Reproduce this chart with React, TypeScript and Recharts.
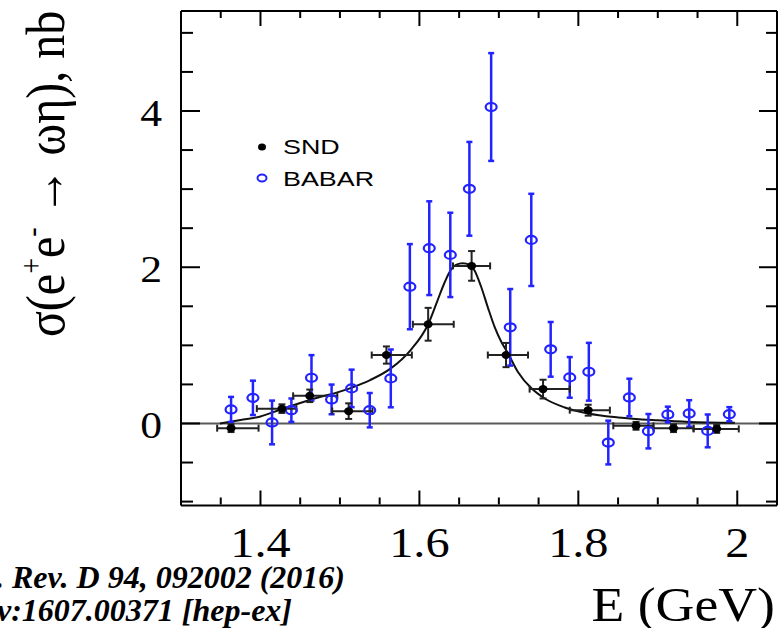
import React from 'react';
import { ComposedChart, XAxis, YAxis, Scatter, Line, ErrorBar, ReferenceLine } from 'recharts';

// SND points: energy (GeV), energy bin edges, cross section (nb), stat. error
const sndE = [1.363, 1.427, 1.462, 1.511, 1.5585, 1.611, 1.6657, 1.709, 1.7556, 1.8124, 1.8726, 1.9198, 1.9741];
const sndBinLo = [1.3455, 1.3954, 1.4411, 1.4903, 1.54, 1.5918, 1.6423, 1.6861, 1.7387, 1.7892, 1.844, 1.8945, 1.945];
const sndBinHi = [1.3976, 1.4452, 1.4967, 1.5409, 1.5905, 1.6432, 1.689, 1.7367, 1.7892, 1.8397, 1.8945, 1.945, 2.0019];
const sndSigma = [-0.06, 0.19, 0.354, 0.158, 0.876, 1.27, 2.017, 0.876, 0.44, 0.17, -0.03, -0.06, -0.07];
const sndErr = [0.05, 0.055, 0.08, 0.1, 0.11, 0.21, 0.19, 0.155, 0.12, 0.07, 0.05, 0.05, 0.05];

// BABAR points
const babarE = [1.363, 1.3905, 1.4146, 1.4389, 1.4642, 1.4895, 1.5147, 1.5375, 1.564, 1.588, 1.6124, 1.6389, 1.6629,
  1.6903, 1.7143, 1.7408, 1.7652, 1.7892, 1.8132, 1.8377, 1.8642, 1.8882, 1.9126, 1.9395, 1.9628, 1.99];
const babarSigma = [0.18, 0.328, 0.013, 0.17, 0.585, 0.308, 0.449, 0.17, 0.577, 1.751, 2.244, 2.158, 3.004,
  4.051, 1.231, 2.35, 0.949, 0.59, 0.662, -0.244, 0.333, -0.099, 0.115, 0.128, -0.095, 0.119];
const babarErr = [0.16, 0.22, 0.28, 0.15, 0.29, 0.19, 0.24, 0.22, 0.37, 0.545, 0.6, 0.54, 0.6,
  0.69, 0.49, 0.59, 0.35, 0.26, 0.37, 0.28, 0.24, 0.22, 0.1, 0.17, 0.21, 0.09];

// fit curve
const fitE = [1.349, 1.375, 1.4, 1.427, 1.462, 1.5125, 1.538, 1.564, 1.589, 1.611, 1.623, 1.6313, 1.6398, 1.646,
  1.6545, 1.663, 1.669, 1.6777, 1.686, 1.6945, 1.703, 1.7114, 1.724, 1.741, 1.7577, 1.783, 1.8125, 1.8503, 1.9, 1.939, 1.997];
const fitSigma = [0.0, 0.045, 0.09, 0.185, 0.3, 0.45, 0.555, 0.705, 0.94, 1.27, 1.58, 1.795, 1.97, 2.03,
  2.05, 2.03, 1.965, 1.75, 1.49, 1.24, 1.046, 0.9, 0.66, 0.45, 0.32, 0.205, 0.128, 0.077, 0.04, 0.02, 0.01];

const xMajor = [1.4, 1.6, 1.8, 2];
const xMinor = [1.35, 1.45, 1.5, 1.55, 1.65, 1.7, 1.75, 1.85, 1.9, 1.95];
const yMajor = [0, 2, 4];
const yMinor = [-1, -0.5, 0.5, 1, 1.5, 2.5, 3, 3.5, 4.5, 5];

const snd = sndE.map((x, i) => ({
  x,
  y: sndSigma[i],
  ey: sndErr[i],
  ex: [x - sndBinLo[i], sndBinHi[i] - x],
}));
const babar = babarE.map((x, i) => ({ x, y: babarSigma[i], ey: babarErr[i] }));
const fit = fitE.map((x, i) => ({ x, y: fitSigma[i] }));

const BLUE = '#2323ff';
const SERIF = '"Liberation Serif", "Times New Roman", serif';
const SANS = '"Liberation Sans", Arial, sans-serif';
const SX = 1.15; // horizontal stretch of the lettering

const XLabel = (props: any) => {
  const { x, y, payload } = props;
  return (
    <g transform={`translate(${x},${y + 43}) scale(${SX},1)`}>
      <text textAnchor="middle" fontFamily={SERIF} fontSize={42} fill="#000">
        {payload.value}
      </text>
    </g>
  );
};

const YLabel = (props: any) => {
  const { x, y, payload } = props;
  return (
    <g transform={`translate(${x - 11},${y + 15}) scale(${SX},1)`}>
      <text textAnchor="end" fontFamily={SERIF} fontSize={38} fill="#000">
        {payload.value}
      </text>
    </g>
  );
};

// tick marks only, no label
const NoLabel = () => <g />;

const SndDot = (p: any) => <ellipse cx={p.cx} cy={p.cy} rx={4.5} ry={4} fill="#000" />;
const BabarDot = (p: any) => (
  <ellipse cx={p.cx} cy={p.cy} rx={5.5} ry={4} fill="none" stroke={BLUE} strokeWidth={2.2} />
);

const tickStroke = { stroke: '#000', strokeWidth: 2 };
const frame = { stroke: '#000', strokeWidth: 2 };

export default function App() {
  const domX: [number, number] = [1.3, 2.05];
  const domY: [number, number] = [-1.05, 5.28];
  return (
    <div style={{ position: 'absolute', left: 0, top: 0, width: 780, height: 628, background: '#fff' }}>
      <ComposedChart width={780} height={628} margin={{ top: 11, right: 3, bottom: 72.5, left: 121 }}>
        {/* labelled axes */}
        <XAxis xAxisId="xb" type="number" dataKey="x" domain={domX} allowDataOverflow ticks={xMajor}
          tickLine={false} axisLine={frame} tick={<XLabel />} height={50} interval={0} />
        <YAxis yAxisId="yl" type="number" domain={domY} allowDataOverflow ticks={yMajor}
          tickLine={false} axisLine={frame} tick={<YLabel />} width={60} interval={0} />

        {/* inward ticks on all four sides */}
        <XAxis xAxisId="xbMaj" type="number" dataKey="x" domain={domX} allowDataOverflow ticks={xMajor} mirror height={1}
          tick={NoLabel} axisLine={false} tickSize={15} tickLine={tickStroke} interval={0} />
        <XAxis xAxisId="xbMin" type="number" dataKey="x" domain={domX} allowDataOverflow ticks={xMinor} mirror height={1}
          tick={NoLabel} axisLine={false} tickSize={7} tickLine={tickStroke} interval={0} />
        <XAxis xAxisId="xtMaj" orientation="top" type="number" dataKey="x" domain={domX} allowDataOverflow ticks={xMajor} mirror height={1}
          tick={NoLabel} axisLine={frame} tickSize={15} tickLine={tickStroke} interval={0} />
        <XAxis xAxisId="xtMin" orientation="top" type="number" dataKey="x" domain={domX} allowDataOverflow ticks={xMinor} mirror height={1}
          tick={NoLabel} axisLine={false} tickSize={6} tickLine={tickStroke} interval={0} />
        <YAxis yAxisId="ylMaj" type="number" domain={domY} allowDataOverflow ticks={yMajor} mirror width={1}
          tick={NoLabel} axisLine={false} tickSize={19} tickLine={tickStroke} interval={0} />
        <YAxis yAxisId="ylMin" type="number" domain={domY} allowDataOverflow ticks={yMinor} mirror width={1}
          tick={NoLabel} axisLine={false} tickSize={11} tickLine={tickStroke} interval={0} />
        <YAxis yAxisId="yrMaj" orientation="right" type="number" domain={domY} allowDataOverflow ticks={yMajor} mirror width={1}
          tick={NoLabel} axisLine={frame} tickSize={18} tickLine={tickStroke} interval={0} />
        <YAxis yAxisId="yrMin" orientation="right" type="number" domain={domY} allowDataOverflow ticks={yMinor} mirror width={1}
          tick={NoLabel} axisLine={false} tickSize={10} tickLine={tickStroke} interval={0} />

        <ReferenceLine xAxisId="xb" yAxisId="yl" y={0} stroke="#5a5a5a" strokeWidth={2} />

        <Line xAxisId="xb" yAxisId="yl" data={fit} dataKey="y" type="monotone" dot={false}
          stroke="#111" strokeWidth={2} isAnimationActive={false} />

        <Scatter xAxisId="xb" yAxisId="yl" data={babar} dataKey="y" shape={<BabarDot />} isAnimationActive={false}>
          <ErrorBar dataKey="ey" direction="y" width={3} stroke={BLUE} strokeWidth={2.5} isAnimationActive={false} />
        </Scatter>

        <Scatter xAxisId="xb" yAxisId="yl" data={snd} dataKey="y" shape={<SndDot />} isAnimationActive={false}>
          <ErrorBar dataKey="ey" direction="y" width={3.5} stroke="#222" strokeWidth={2} isAnimationActive={false} />
          <ErrorBar dataKey="ex" direction="x" width={3.5} stroke="#222" strokeWidth={2} isAnimationActive={false} />
        </Scatter>
      </ComposedChart>

      <svg width={780} height={628} style={{ position: 'absolute', left: 0, top: 0, pointerEvents: 'none' }}>
        {/* y-axis title */}
        <g transform={`translate(64,337) scale(${SX},1) rotate(-90)`}>
          <text fontFamily={SERIF} fontSize={48} fill="#000">
            σ(e<tspan dy={-19} fontSize={28}>+</tspan>
            <tspan dy={19}>e</tspan>
            <tspan dy={-19} fontSize={28}>-</tspan>
            <tspan dy={19}> → ωη), nb</tspan>
          </text>
        </g>

        {/* legend */}
        <ellipse cx={262} cy={147} rx={4} ry={3.5} fill="#000" />
        <g transform={`translate(283,154) scale(1.28,1)`}>
          <text fontFamily={SANS} fontSize={21} fill="#000">SND</text>
        </g>
        <ellipse cx={262} cy={178} rx={4.5} ry={3.5} fill="none" stroke={BLUE} strokeWidth={2} />
        <g transform={`translate(283,186) scale(1.28,1)`}>
          <text fontFamily={SANS} fontSize={21} fill="#000">BABAR</text>
        </g>

        {/* axis title */}
        <g transform={`translate(775,621) scale(1.12,1)`}>
          <text textAnchor="end" fontFamily={SERIF} fontSize={48} fill="#000">E (GeV)</text>
        </g>

        {/* reference */}
        <text x={345} y={588} textAnchor="end" fontFamily={SERIF} fontSize={32} fontWeight="bold" fontStyle="italic" fill="#000">
          Phys. Rev. D 94, 092002 (2016)
        </text>
        <text x={292} y={621} textAnchor="end" fontFamily={SERIF} fontSize={32} fontWeight="bold" fontStyle="italic" fill="#000">
          arXiv:1607.00371 [hep-ex]
        </text>
      </svg>
    </div>
  );
}
